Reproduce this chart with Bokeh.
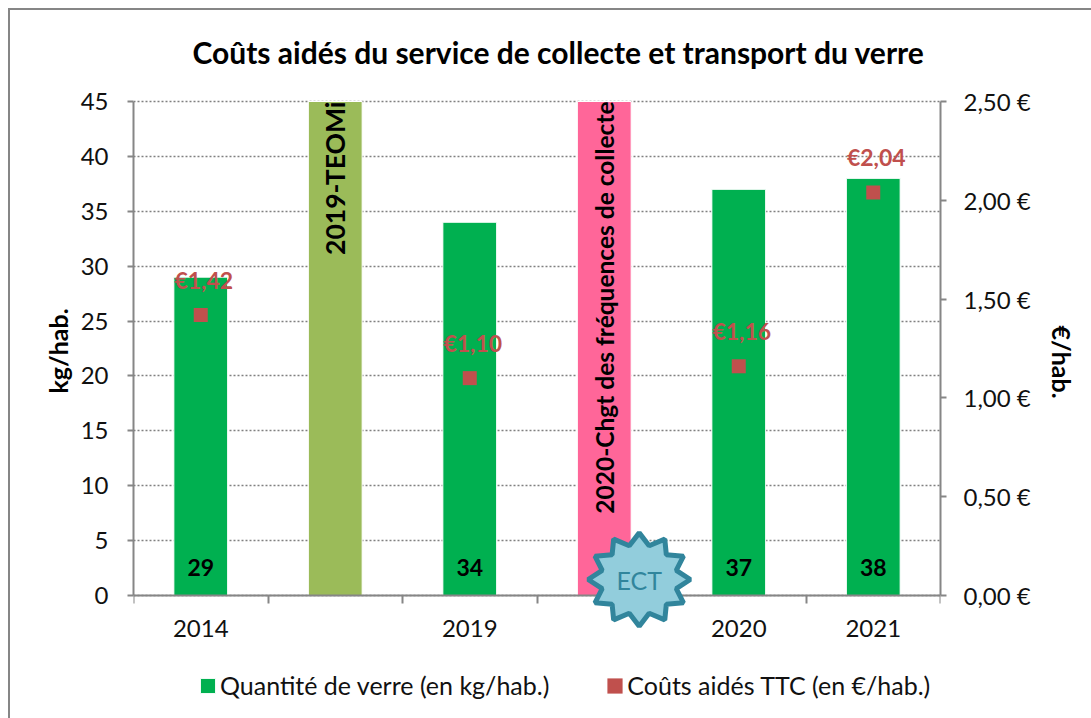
import math
from bokeh.plotting import figure
from bokeh.embed import file_html
from bokeh.resources import INLINE
from bokeh.core.properties import value
from bokeh.models import (LinearAxis, Range1d, FixedTicker, Legend, LegendItem, Label, Title, Grid,
                          PolyAnnotation, InlineStyleSheet)

# --- data
year_positions = [0.5, 2.5, 4.5, 5.5]
year_labels = ["2014", "2019", "2020", "2021"]
quantities = [29, 34, 37, 38]
quantity_labels = ["29", "34", "37", "38"]
costs = [1.42, 1.10, 1.16, 2.04]
cost_labels = ["€1,42", "€1,10", "€1,16", "€2,04"]
event_positions = [1.5, 3.5]
event_heights = [45, 45]
event_colors = ["#9BBB59", "#FF6699"]
event_labels = ["2019-TEOMi", "2020-Chgt des fréquences de collecte"]
event_font_sizes = ["26.5px", "24.5px"]
left_ticks = [0, 5, 10, 15, 20, 25, 30, 35, 40, 45]
right_ticks = [0, 0.5, 1.0, 1.5, 2.0, 2.5]
right_tick_labels = ["0,00 €", "0,50 €", "1,00 €", "1,50 €", "2,00 €", "2,50 €"]

FONT = "Lato"
GREY = "#868686"
TICK = 24
W, H = 1091, 718
# the plot frame runs to the bottom of the page so badge and legend are not clipped,
# and slightly above the top tick so its gridline stays whole
EXTRA_BOTTOM = 123 / 494
EXTRA_TOP = 2 / 494

p = figure(width=W, height=H, output_backend="svg", toolbar_location=None,
           x_range=Range1d(0, 6), y_range=Range1d(-45 * EXTRA_BOTTOM, 45 * (1 + EXTRA_TOP)),
           min_border_left=133, min_border_right=151, min_border_top=99, min_border_bottom=0,
           background_fill_color="white", border_fill_color="white", outline_line_color=None,
           x_axis_type=None, y_axis_type=None)
p.extra_y_ranges["cost"] = Range1d(-2.5 * EXTRA_BOTTOM, 2.5 * (1 + EXTRA_TOP))

# picture frame
p.stylesheets = [InlineStyleSheet(css=":host::after {content:''; position:absolute; left:8px; top:8px; right:0; bottom:0;"
                                      " border-left:2px solid #868686; border-top:2px solid #868686; pointer-events:none;}")]

# title
p.add_layout(Title(text="Coûts aidés du service de collecte et transport du verre", align="left", offset=59,
                   standoff=60, text_font=FONT, text_font_size="30px", text_font_style="bold",
                   text_color="black"), "above")

# axes
yl = LinearAxis(ticker=FixedTicker(ticks=left_ticks), bounds=(0, 45))
yr = LinearAxis(y_range_name="cost", ticker=FixedTicker(ticks=right_ticks), bounds=(0, 2.5),
                major_label_overrides=dict(zip(right_ticks, right_tick_labels)))
xa = LinearAxis(ticker=FixedTicker(ticks=year_positions, minor_ticks=[0, 1, 2, 3, 4, 5, 6]),
                major_label_overrides=dict(zip(year_positions, year_labels)), fixed_location=0)
for a in (yl, yr, xa):
    a.axis_line_color = GREY
    a.axis_line_width = 2
    a.major_tick_line_color = GREY
    a.major_tick_line_width = 2
    a.major_tick_in = 0
    a.major_tick_out = 6
    a.minor_tick_line_width = 2
    a.minor_tick_line_color = None
    a.major_label_text_font = FONT
    a.major_label_text_font_size = f"{TICK}px"
    a.major_label_text_color = "#111111"
yl.major_label_standoff = 19
yr.major_label_standoff = 17
xa.major_tick_line_color = None
xa.minor_tick_line_color = GREY
xa.minor_tick_in = 0
xa.minor_tick_out = 8
xa.major_label_standoff = 16
p.add_layout(yl, "left")
p.add_layout(yr, "right")
p.add_layout(xa, "below")

# axis titles (as side titles, so they centre on the 0-45 span and not on the extended frame)
p.add_layout(Title(text="kg/hab.", align="left", offset=325, standoff=10, text_font=FONT, text_font_size="25px",
                   text_font_style="bold", text_color="black"), "left")
p.add_layout(Title(text="€/hab.", align="left", offset=226, standoff=26, text_font=FONT, text_font_size="25px",
                   text_font_style="bold", text_color="black"), "right")

# grid
p.add_layout(Grid(dimension=1, ticker=FixedTicker(ticks=left_ticks), grid_line_color="#808080",
                  grid_line_dash="2 2", grid_line_width=1.5))

# bars
bars = p.vbar(x=year_positions, top=quantities, width=0.4, fill_color="#00B050", line_color="white", line_width=1)
p.vbar(x=event_positions, top=event_heights, width=0.4, fill_color=event_colors, line_color="white", line_width=1)
p.scatter(x=year_positions, y=costs, y_range_name="cost", marker="square", size=14,
          fill_color="#C0504D", line_color="#C0504D", line_width=0)

# texts
p.text(x=year_positions, y=[0] * 4, text=quantity_labels, text_font=value(FONT), text_font_size="23px",
       text_font_style="bold", text_color="black", text_align="center", text_baseline="middle", y_offset=-28)
p.text(x=year_positions, y=costs, y_range_name="cost", text=cost_labels, text_font=value(FONT), text_font_size="23px",
       text_font_style="bold", text_color="#C0504D", text_alpha=1, text_align="center", text_baseline="middle",
       x_offset=3, y_offset=-35)
p.text(x=event_positions, y=event_heights, text=event_labels, angle=math.pi / 2, text_font=value(FONT),
       text_font_size=event_font_sizes, text_font_style="bold", text_color="black", text_align="right",
       text_baseline="middle")

# ECT badge
star_cx, star_cy = 3.76, 1.457
star_rx, star_ry = 0.38, 4.25
star_inner = 0.75
sx, sy = [], []
for i in range(24):
    t = math.pi / 2 - i * math.pi / 12
    r = 1 if i % 2 == 0 else star_inner
    sx.append(star_cx + star_rx * r * math.cos(t))
    sy.append(star_cy + star_ry * r * math.sin(t))
p.add_layout(PolyAnnotation(xs=sx, ys=sy, xs_units="data", ys_units="data", fill_color="#92CDDC", fill_alpha=1,
                            line_color="#31859C", line_alpha=1, line_width=5, level="annotation"))
p.add_layout(Label(x=star_cx, y=star_cy, text="ECT", text_font=FONT, text_font_size="25px", text_color="#31859C",
                   text_align="center", text_baseline="middle", level="annotation"))

# legend (square proxy so both keys share one size)
proxy = p.vbar(x=[float("nan")], top=[float("nan")], width=0.4, fill_color="#C0504D", line_color=None)
legend = Legend(items=[LegendItem(label=value("Quantité de verre (en kg/hab.)"), renderers=[bars]),
                       LegendItem(label=value("Coûts aidés TTC (en €/hab.)"), renderers=[proxy])],
                orientation="horizontal", location=(65, 18), padding=0, margin=0, spacing=56,
                border_line_color=None, background_fill_alpha=0, glyph_width=19, glyph_height=19,
                label_standoff=3, label_text_font=FONT, label_text_font_size="25px", label_text_color="#111111")
p.add_layout(legend, "center")

open("out.html", "w").write(file_html(p, INLINE))
